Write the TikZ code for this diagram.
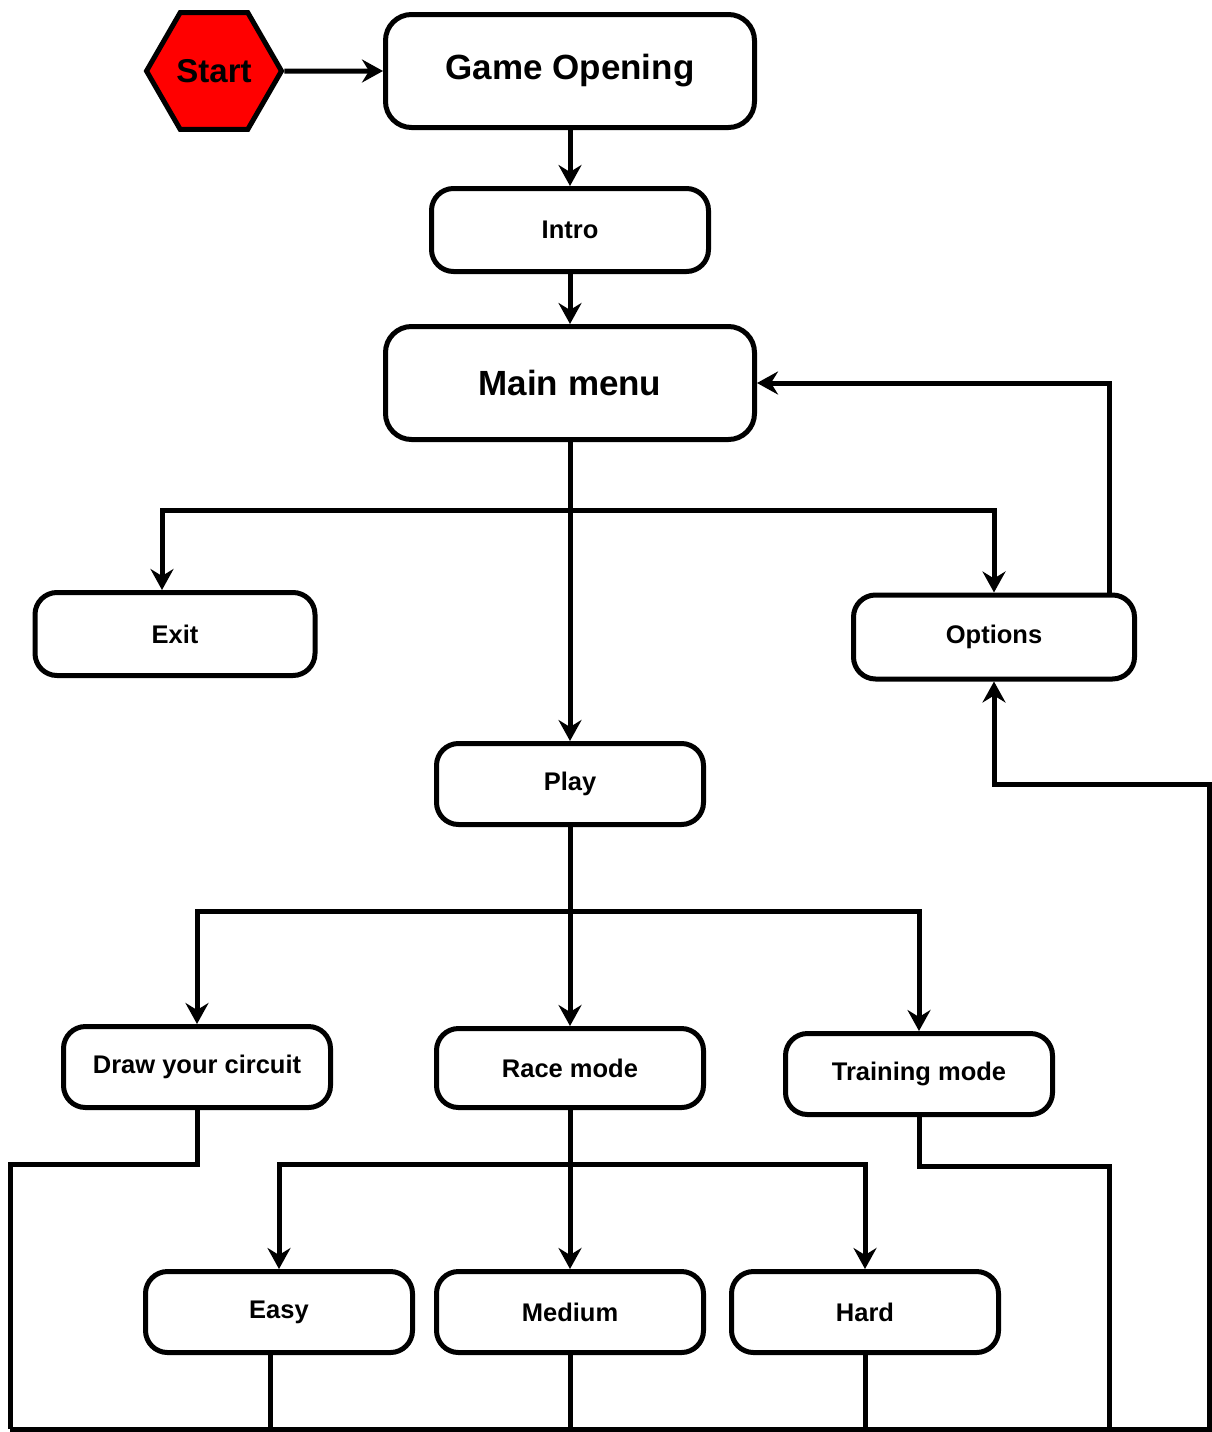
\documentclass[tikz,border=0pt]{standalone}
\usepackage{fontspec}
\setmainfont{Liberation Sans}
\usetikzlibrary{shapes.geometric, arrows.meta, positioning, calc}

\begin{document}
\begin{tikzpicture}[
        x=1pt, y=-1pt,
        box/.style={rectangle, draw, line width=5pt, rounded corners=22pt, minimum width=267pt, minimum height=81pt, align=center, font=\bfseries\fontsize{25.5}{30}\selectfont},
        bigbox/.style={box, rounded corners=26pt, minimum width=369pt, minimum height=113pt, font=\bfseries\fontsize{35}{42}\selectfont},
        hexa/.style={regular polygon, regular polygon sides=6, draw, line width=5pt, fill=red, minimum size=135pt, inner sep=0pt, font=\bfseries\fontsize{33}{40}\selectfont},
        line/.style={line width=5pt, draw=black},
        arrow/.style={line, -{Stealth[length=21pt, width=23pt, inset=7pt]}}
    ]
    \useasboundingbox (0,0) rectangle (1211,1432);

    % Opening
    \node[hexa] (start) at (214,71) {Start};
    \node[bigbox] (opening) at (570,71) {Game Opening};
    \node[box, minimum width=277pt, minimum height=83pt] (intro) at (570,230) {Intro};
    \node[bigbox] (menu) at (570,383) {Main menu};

    % Menu choices
    \node[box, minimum width=280pt, minimum height=83pt] (exit) at (175,634) {Exit};
    \node[box, minimum width=281pt, minimum height=84pt] (options) at (994,637) {Options};
    \node[box] (play) at (570,784) {Play};

    % Game modes
    \node[box] (circuit) at (197,1067) {Draw your circuit};
    \node[box, minimum height=79pt] (race) at (570,1068) {Race mode};
    \node[box] (training) at (919,1074) {Training mode};

    % Race levels
    \node[box] (easy) at (279,1312) {Easy};
    \node[box] (medium) at (570,1312) {Medium};
    \node[box] (hard) at (865,1312) {Hard};

    \coordinate (ret) at ([xshift=115pt]options.north);
    \coordinate (busL) at (10,1429);
    \coordinate (busR) at (1209,1429);

    % Opening sequence
    \draw[arrow] (start) -- (opening);
    \draw[arrow] (opening) -- (intro);
    \draw[arrow] (intro) -- (menu);

    % From main menu
    \draw[arrow] (menu) -- (play);
    \draw[arrow] (menu.south) ++(0,68) -| ([xshift=-13pt]exit.north);
    \draw[arrow] (menu.south) ++(0,68) -| (options.north);
    \draw[arrow] (ret) |- (menu.east);

    % From play
    \draw[arrow] (play) -- (race);
    \draw[arrow] (play.south) ++(0,84) -| (circuit.north);
    \draw[arrow] (play.south) ++(0,84) -| (training.north);

    % From race mode
    \draw[arrow] (race) -- (medium);
    \draw[arrow] (race.south) ++(0,54) -| (easy.north);
    \draw[arrow] (race.south) ++(0,54) -| (hard.north);

    % Back to options
    \draw[line] (circuit.south) -- ++(0,54) -| (busL);
    \draw[line] (training.south) -- ++(0,49) -| (ret |- busL);
    \draw[line] ([xshift=-9pt]easy.south) -- ++(0,74);
    \draw[line] (medium.south) -- (medium.south |- busL);
    \draw[line] (hard.south) -- (hard.south |- busL);
    \draw[arrow] (busL) -- (busR) |- (options.south |- play.east) -- (options.south);

\end{tikzpicture}
\end{document}
